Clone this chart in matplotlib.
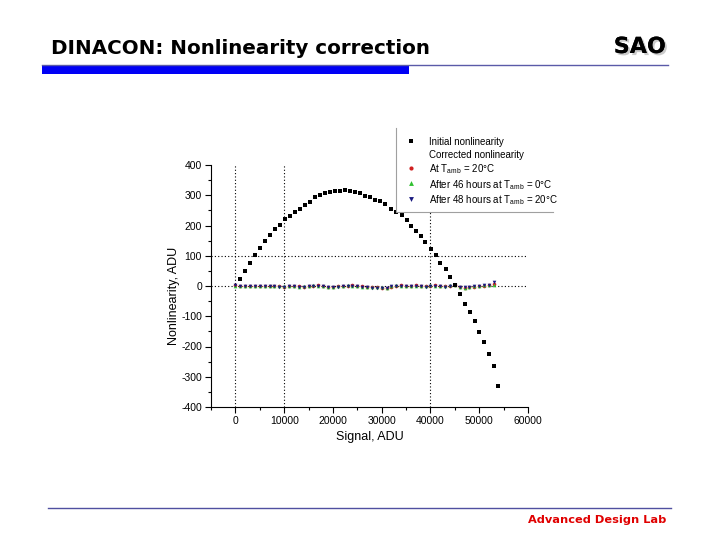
#!/usr/bin/env python3
"""DINACON nonlinearity correction slide, redrawn with matplotlib."""

import matplotlib
matplotlib.use("Agg")
import matplotlib.pyplot as plt
import matplotlib.patheffects as pe
from matplotlib.lines import Line2D
from matplotlib.patches import Rectangle
from matplotlib.ticker import MultipleLocator

# Initial nonlinearity (black squares).
init_signal = [880, 2050, 3080, 4100, 5130, 6160, 7190, 8210, 9240, 10190,
               11210, 12240, 13270, 14300, 15330, 16350, 17380, 18400, 19430, 20450,
               21410, 22440, 23460, 24490, 25520, 26540, 27570, 28600, 29630, 30650,
               31900, 33000, 34100, 35150, 36000, 37100, 38150, 38950, 40150, 41150,
               42050, 43100, 44100, 45000, 46000, 47100, 48100, 49100, 50000, 51000,
               51950, 52950, 53900]
init_nonlin = [22, 48, 75, 101, 126, 148, 169, 188, 203, 221,
               231, 245, 255, 267, 278, 293, 302, 307, 311, 315,
               315, 318, 315, 311, 307, 299, 293, 285, 281, 270,
               256, 246, 236, 217, 198, 183, 165, 145, 122, 102,
               75, 56, 30, 3, -25, -58, -85, -117, -152, -184,
               -224, -265, -329]

# Corrected nonlinearity, three runs.
corr_signal = list(range(0, 54000, 1000))
corr_20c = [2, 1, 0, 1, 0, -1, 0, 1, 0, -1, -2, 0, 1, -1, -2, 0, 1, 2,
            0, -2, -3, -1, 0, 1, 2, 0, -1, -2, -3, -4, -5, -6, -2, 1, 2, 0,
            1, 2, 0, -1, 1, 2, 0, -1, 1, 3, -4, -6, -4, -2, 0, 1, 3, 5]
corr_0c = [1, 0, 1, 0, -1, 0, 1, 0, -1, 0, -1, 1, 0, -2, -1, 1, 2, 1,
           -1, -2, -2, 0, 1, 2, 1, -1, -2, -3, -2, -3, -4, -5, -1, 2, 1, 1,
           0, 1, -1, 0, 2, 1, -1, 0, 2, 4, -3, -5, -3, -1, 1, 2, 2, 4]
corr_48h = [3, 0, -1, 0, -1, 0, 0, -1, -1, -2, -3, -1, 0, -2, -3, -1, 0, 1,
            -1, -3, -4, -2, -1, 0, 1, -1, -2, -4, -5, -6, -8, -5, -1, 0, 1, -1,
            0, 1, -1, -2, 0, 1, -1, -2, 0, 3, -2, -4, -3, -1, 1, 2, 4, 12]

legend_labels = [
    "Initial nonlinearity",
    "Corrected nonlinearity",
    "At T$_{\\mathrm{amb}}$ = 20°C",
    "After 46 hours at T$_{\\mathrm{amb}}$ = 0°C",
    "After 48 hours at T$_{\\mathrm{amb}}$ = 20°C",
]

W, H = 720, 540

plt.rcParams["font.family"] = ["Liberation Sans", "DejaVu Sans"]
plt.rcParams["mathtext.fontset"] = "custom"
plt.rcParams["mathtext.rm"] = "Liberation Sans"
plt.rcParams["mathtext.it"] = "Liberation Sans:italic"
plt.rcParams["axes.unicode_minus"] = False


def fx(x):
    return x / W


def fy(y):
    return 1 - y / H


fig = plt.figure(figsize=(7.2, 5.4), dpi=100)
fig.patch.set_facecolor("white")

# Slide header and footer.
fig.text(fx(51), fy(54), "DINACON: Nonlinearity correction", fontsize=14.3,
         fontweight="bold", family="DejaVu Sans", va="baseline", ha="left")
fig.text(fx(666), fy(53), "SAO", fontsize=16, fontweight="bold",
         family="DejaVu Sans", va="baseline", ha="right",
         path_effects=[pe.withSimplePatchShadow(offset=(1.5, -1.5),
                                                shadow_rgbFace="#999999", alpha=0.5),
                       pe.Normal()])
fig.add_artist(Line2D([fx(42), fx(668)], [fy(65.5), fy(65.5)],
                      color="#5a5aa8", lw=1.0, transform=fig.transFigure))
fig.add_artist(Rectangle((fx(42), fy(74)), fx(409) - fx(42), (74 - 66) / H,
                         facecolor="#0000f5", edgecolor="none",
                         transform=fig.transFigure))
fig.add_artist(Line2D([fx(48), fx(671)], [fy(507.5), fy(507.5)],
                      color="#5050a0", lw=1.0, transform=fig.transFigure))
fig.text(fx(666), fy(523), "Advanced Design Lab", fontsize=8.2,
         fontweight="bold", family="DejaVu Sans", color="#e00000",
         va="baseline", ha="right")

# Chart.
ax = fig.add_axes([fx(211), fy(407), (528 - 211) / W, (407 - 165) / H])
ax.set_xlim(-5000, 60000)
ax.set_ylim(-400, 400)

for xv in (0, 10000, 40000):
    ax.axvline(xv, color="black", lw=0.8, ls=(0, (1, 2)), zorder=1)
for yv in (0, 100):
    ax.axhline(yv, color="black", lw=0.8, ls=(0, (1, 2)), zorder=1)

ms = 2.6
ax.plot(corr_signal, corr_20c, ls="none", marker="o", ms=ms, color="#d02020",
        markeredgewidth=0, zorder=3)
ax.plot(corr_signal, corr_0c, ls="none", marker="^", ms=ms, color="#30c030",
        markeredgewidth=0, zorder=3)
ax.plot(corr_signal, corr_48h, ls="none", marker="v", ms=ms, color="#1a1a80",
        markeredgewidth=0, zorder=4)
ax.plot(init_signal, init_nonlin, ls="none", marker="s", ms=2.7, color="black",
        markeredgewidth=0, zorder=5)

ax.spines["top"].set_visible(False)
ax.spines["right"].set_visible(False)
for side in ("left", "bottom"):
    ax.spines[side].set_linewidth(0.8)

ax.xaxis.set_major_locator(MultipleLocator(10000))
ax.xaxis.set_minor_locator(MultipleLocator(5000))
ax.yaxis.set_major_locator(MultipleLocator(100))
ax.yaxis.set_minor_locator(MultipleLocator(50))
ax.tick_params(which="major", direction="out", length=4, width=0.8,
               labelsize=7.5, pad=2.5)
ax.tick_params(which="minor", direction="out", length=2.5, width=0.8)

ax.set_xlabel("Signal, ADU", fontsize=9)
ax.set_ylabel("Nonlinearity, ADU", fontsize=9)
ax.xaxis.set_label_coords(0.5, -0.10)
ax.yaxis.set_label_coords(-0.097, 0.46)

# Legend box: white patch with left and bottom edges only.
fig.add_artist(Rectangle((fx(396), fy(212)), fx(553) - fx(396), (212 - 128) / H,
                         facecolor="white", edgecolor="none",
                         transform=fig.transFigure, zorder=2))
fig.add_artist(Line2D([fx(396), fx(396), fx(553)], [fy(128), fy(212), fy(212)],
                      color="#a0a0a0", lw=0.8, transform=fig.transFigure, zorder=3))

handles = [
    Line2D([], [], ls="none", marker="s", ms=3, color="black", markeredgewidth=0),
    Line2D([], [], ls="none"),
    Line2D([], [], ls="none", marker="o", ms=3, color="#d02020", markeredgewidth=0),
    Line2D([], [], ls="none", marker="^", ms=3.5, color="#30c030", markeredgewidth=0),
    Line2D([], [], ls="none", marker="v", ms=3.5, color="#1a1a80", markeredgewidth=0),
]
fig.legend(handles, legend_labels, loc="upper left",
           bbox_to_anchor=(fx(405), fy(136)), bbox_transform=fig.transFigure,
           frameon=False, fontsize=7, handlelength=1.2, handletextpad=1.25,
           handleheight=1.5, labelspacing=0.15, borderaxespad=0, borderpad=0)

fig.savefig("out.png", dpi=100)
